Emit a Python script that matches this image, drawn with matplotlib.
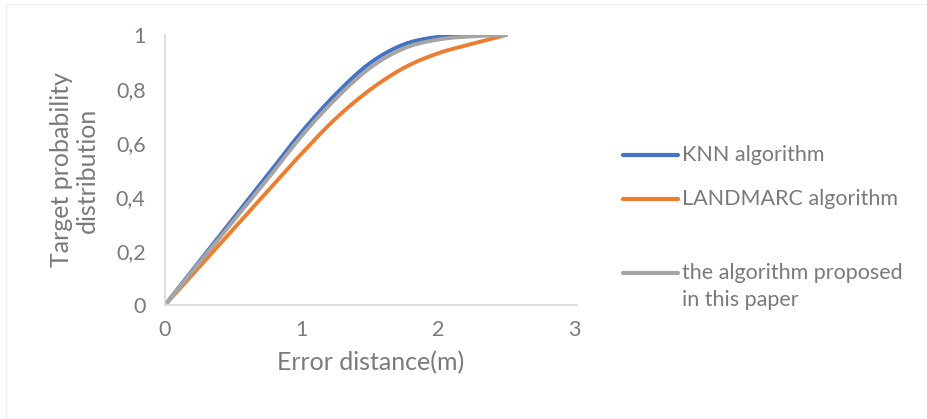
import numpy as np
import matplotlib
matplotlib.use("Agg")
import matplotlib.pyplot as plt
from matplotlib.lines import Line2D
from matplotlib.patches import Rectangle

# values
error_m = [0, 0.25, 0.5, 0.75, 1.0, 1.25, 1.5, 1.75, 2.0, 2.25, 2.5]
knn = [0, 0.16, 0.32, 0.48, 0.64, 0.78, 0.895, 0.965, 0.993, 1.0, 1.0]
landmarc = [0, 0.14, 0.28, 0.42, 0.56, 0.69, 0.796, 0.878, 0.932, 0.967, 1.0]
proposed = [0, 0.155, 0.31, 0.465, 0.625, 0.763, 0.877, 0.95, 0.983, 0.995, 1.0]

series_names = ["KNN algorithm", "LANDMARC algorithm",
                "the algorithm proposed\nin this paper"]
series_colors = ["#4472C4", "#ED7D31", "#A5A5A5"]

x_ticks = [0, 1, 2, 3]
y_ticks = [0, 0.2, 0.4, 0.6, 0.8, 1.0]
y_tick_labels = ["0", "0,2", "0,4", "0,6", "0,8", "1"]

TEXT = "#7a7a7a"
W, H = 927, 419
plt.rcParams["font.family"] = ["Lato", "DejaVu Sans"]


def smooth_line(xs, ys, steps=30):
    # Excel-like smoothed line: Catmull-Rom segments drawn as cubic Beziers
    p = np.column_stack([xs, ys]).astype(float)
    p = np.vstack([p[0], p, p[-1]])
    out = []
    t = np.linspace(0, 1, steps)[:, None]
    for i in range(1, len(p) - 2):
        p0, p1, p2, p3 = p[i - 1], p[i], p[i + 1], p[i + 2]
        c1 = p1 + (p2 - p0) / 6
        c2 = p2 - (p3 - p1) / 6
        seg = ((1 - t) ** 3) * p1 + 3 * ((1 - t) ** 2) * t * c1 \
            + 3 * (1 - t) * t ** 2 * c2 + t ** 3 * p2
        out.append(seg)
    pts = np.vstack(out)
    return pts[:, 0], np.minimum(pts[:, 1], max(ys))


fig = plt.figure(figsize=(W / 100, H / 100), dpi=100)
ax = fig.add_axes([165 / W, 1 - 305 / H, 412 / W, 270 / H])

for ys, name, col in zip([knn, landmarc, proposed], series_names, series_colors):
    sx, sy = smooth_line(error_m, ys)
    ax.plot(sx, sy, color=col, lw=2.8, label=name, solid_capstyle="round")

ax.set_xlim(0, 3.02)
ax.set_ylim(0, 1)
ax.set_xticks(x_ticks)
ax.set_yticks(y_ticks)
ax.set_yticklabels(y_tick_labels)
ax.tick_params(length=0, labelsize=15.5, colors=TEXT)
ax.tick_params(axis="y", pad=14)
ax.tick_params(axis="x", pad=11)
for s in ["top", "right"]:
    ax.spines[s].set_visible(False)
for s in ["left", "bottom"]:
    ax.spines[s].set_color("#d9d9d9")
    ax.spines[s].set_linewidth(1.2)

ax.set_xlabel("Error distance(m)", fontsize=18, color=TEXT, labelpad=8)
ax.set_ylabel("Target probability\ndistribution", fontsize=18, color=TEXT,
              labelpad=12, linespacing=1.15)

# legend drawn by hand so the handle sits on the first text line
legend_y = [155, 199, 273]
for ly, name, col in zip(legend_y, series_names, series_colors):
    fig.add_artist(Line2D([623 / W, 678 / W], [1 - ly / H, 1 - ly / H],
                          color=col, lw=3, solid_capstyle="round"))
    fig.text(682 / W, 1 - ly / H, name.split("\n")[0], fontsize=15.5,
             color=TEXT, va="center", ha="left")
    if "\n" in name:
        fig.text(682 / W, 1 - (ly + 27) / H, name.split("\n")[1], fontsize=15.5,
                 color=TEXT, va="center", ha="left")

fig.patches.append(Rectangle((6 / W, 0), 1, 1 - 4 / H, transform=fig.transFigure,
                             fill=False, edgecolor="#efefef", lw=1))

fig.savefig("out.png", dpi=100)
